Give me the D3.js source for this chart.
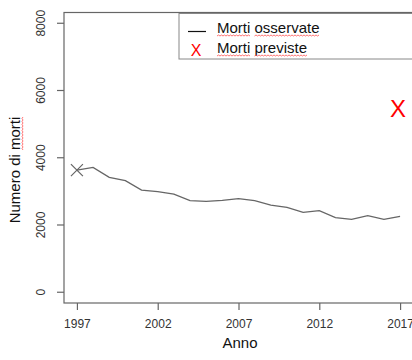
<!DOCTYPE html>
<html>
<head>
<meta charset="utf-8">
<script src="https://cdn.jsdelivr.net/npm/d3@7"></script>
<style>
  body { margin: 0; background: #fff; }
  svg { font-family: "Liberation Sans", Arial, sans-serif; display: block; }
</style>
</head>
<body>
<div class="chart"></div>
<script>
// data
var years = [1997, 1998, 1999, 2000, 2001, 2002, 2003, 2004, 2005, 2006, 2007,
             2008, 2009, 2010, 2011, 2012, 2013, 2014, 2015, 2016, 2017];
var deaths = [3634, 3714, 3417, 3317, 3040, 2990, 2921, 2722, 2704, 2734, 2782,
              2722, 2594, 2526, 2377, 2425, 2217, 2169, 2276, 2169, 2258];
var predYear = [2017];
var predDeaths = [5450];
var xTicks = [1997, 2002, 2007, 2012, 2017];
var yTicks = [0, 2000, 4000, 6000, 8000];
var legendLabels = ["Morti osservate", "Morti previste"];

var svgWidth = 412, svgHeight = 360;

var svg = d3.select(".chart")
  .append("svg")
  .attr("width", svgWidth)
  .attr("height", svgHeight);

// R-style 4% padding around the data range
var xScale = d3.scaleLinear()
  .domain([1996.2, 2017.8])
  .range([64, 413]);

var yScale = d3.scaleLinear()
  .domain([-320, 8320])
  .range([303, 12.5]);

// plot box
svg.append("rect")
  .attr("x", 64)
  .attr("y", 12.5)
  .attr("width", 349)
  .attr("height", 290.5)
  .attr("fill", "none")
  .attr("stroke", "#666")
  .attr("stroke-width", 1.2);

// axes
var xAxis = d3.axisBottom(xScale).tickValues(xTicks).tickFormat(d3.format("d"))
  .tickSize(7).tickPadding(9);
var yAxis = d3.axisLeft(yScale).tickValues(yTicks).tickFormat(d3.format("d"))
  .tickSize(7).tickPadding(0);

var gx = svg.append("g")
  .attr("transform", "translate(0, 303)")
  .call(xAxis);
gx.select(".domain").remove();
gx.selectAll("line").attr("stroke", "#666").attr("stroke-width", 1.2);
gx.selectAll("text")
  .attr("fill", "#333")
  .style("font-size", "12px");

var gy = svg.append("g")
  .attr("transform", "translate(64, 0)")
  .call(yAxis);
gy.select(".domain").remove();
gy.selectAll("line").attr("stroke", "#666").attr("stroke-width", 1.2);
gy.selectAll("text")
  .attr("x", 0)
  .attr("dy", null)
  .attr("text-anchor", "middle")
  .attr("transform", d => `translate(-22, ${yScale(d)}) rotate(-90)`)
  .attr("y", 0)
  .attr("dominant-baseline", "middle")
  .attr("fill", "#333")
  .style("font-size", "12px");
gy.selectAll(".tick").attr("transform", null);
gy.selectAll(".tick line")
  .attr("y1", d => yScale(d))
  .attr("y2", d => yScale(d));

// axis titles
svg.append("text")
  .attr("x", 240)
  .attr("y", 348)
  .attr("text-anchor", "middle")
  .style("font-size", "15px")
  .attr("fill", "#111")
  .text("Anno");

var yTitle = svg.append("text")
  .attr("transform", "translate(20, 170) rotate(-90)")
  .attr("text-anchor", "middle")
  .style("font-size", "15px")
  .attr("fill", "#111");
yTitle.append("tspan").text("Numero di ");
var yTitleWord = yTitle.append("tspan").text("morti");

// observed line
var rows = years.map((y, i) => ({ year: y, value: deaths[i] }));
var line = d3.line()
  .x(d => xScale(d.year))
  .y(d => yScale(d.value));

svg.append("path")
  .attr("d", line(rows))
  .attr("fill", "none")
  .attr("stroke", "#666")
  .attr("stroke-width", 1.3);

// cross at first point
var cx = xScale(years[0]), cy = yScale(deaths[0]);
svg.append("path")
  .attr("d", `M${cx - 6},${cy - 6}L${cx + 6},${cy + 6}M${cx - 6},${cy + 6}L${cx + 6},${cy - 6}`)
  .attr("stroke", "#666")
  .attr("stroke-width", 1.2);

// predicted point
svg.selectAll(".pred")
  .data(predYear)
  .enter()
  .append("text")
  .attr("class", "pred")
  .attr("x", (d, i) => xScale(d) - 2)
  .attr("y", (d, i) => yScale(predDeaths[i]))
  .attr("text-anchor", "middle")
  .attr("dominant-baseline", "central")
  .style("font-size", "24px")
  .attr("fill", "#ff0000")
  .text("X");

// legend
var legend = svg.append("g");
legend.append("rect")
  .attr("x", 179)
  .attr("y", 13.5)
  .attr("width", 240)
  .attr("height", 45.5)
  .attr("fill", "#fff")
  .attr("stroke", "#888")
  .attr("stroke-width", 1);

legend.append("line")
  .attr("x1", 188).attr("x2", 206)
  .attr("y1", 31.5).attr("y2", 31.5)
  .attr("stroke", "#111")
  .attr("stroke-width", 1.2);

legend.append("text")
  .attr("x", 196)
  .attr("y", 50)
  .attr("text-anchor", "middle")
  .attr("dominant-baseline", "central")
  .style("font-size", "16px")
  .attr("fill", "#ff0000")
  .text("X");

var legTexts = legend.selectAll(".leg")
  .data(legendLabels)
  .enter()
  .append("text")
  .attr("class", "leg")
  .attr("x", 217)
  .attr("y", (d, i) => 33 + i * 20)
  .style("font-size", "15px")
  .attr("fill", "#111");

// split words so the spell-check squiggles can sit under each one
var squiggleWords = [yTitleWord.node()];
legTexts.each(function(d) {
  var t = d3.select(this);
  d.split(" ").forEach(function(w, j) {
    var s = t.append("tspan").text((j > 0 ? " " : "") + w);
    squiggleWords.push(s);
  });
});

function squigglePath(x0, x1, y) {
  var p = "M" + x0 + "," + y;
  var up = true;
  for (var x = x0 + 1.5; x <= x1; x += 1.5) {
    p += "L" + x + "," + (up ? y - 1 : y);
    up = !up;
  }
  return p;
}

legTexts.each(function() {
  var t = d3.select(this);
  t.selectAll("tspan").each(function(_, j) {
    var n = this;
    var start = n.getStartPositionOfChar(j > 0 ? 1 : 0).x;
    var end = n.getEndPositionOfChar(n.getNumberOfChars() - 1).x;
    var base = +t.attr("y") + 3;
    legend.append("path")
      .attr("d", squigglePath(start, end, base))
      .attr("fill", "none")
      .attr("stroke", "#ff5050")
      .attr("stroke-width", 0.8);
  });
});

// squiggle under "morti" in the y title (rotated text)
(function() {
  var n = yTitleWord.node();
  var s = n.getStartPositionOfChar(0).x;
  var e = n.getEndPositionOfChar(n.getNumberOfChars() - 1).x;
  svg.append("path")
    .attr("transform", "translate(20, 170) rotate(-90)")
    .attr("d", squigglePath(s, e, 3))
    .attr("fill", "none")
    .attr("stroke", "#ff5050")
    .attr("stroke-width", 0.8);
})();
</script>
</body>
</html>
